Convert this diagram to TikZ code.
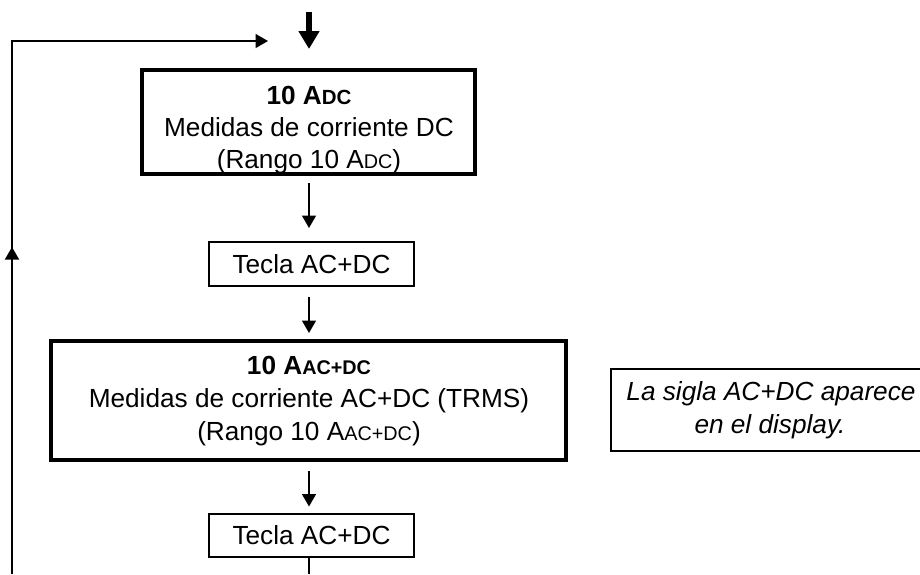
\documentclass[tikz,border=0pt]{standalone}
\usepackage{fontspec}
\setmainfont{Liberation Sans}
\usetikzlibrary{arrows.meta}
\newcommand\smtxt[1]{{\fontsize{19.8}{20}\selectfont #1}}
\newcommand\smbtxt[1]{{\fontsize{20.5}{21}\selectfont #1}}
\begin{document}
\begin{tikzpicture}[x=1pt,y=-1pt,
  thickbox/.style={draw,line width=4pt,inner sep=0pt,outer sep=0pt},
  thinbox/.style={draw,line width=1.3pt,inner sep=0pt,outer sep=0pt,font=\fontsize{26.2}{33}\selectfont},
  txt/.style={font=\fontsize{26.2}{33}\selectfont,inner sep=0pt,anchor=base},
  btxt/.style={font=\fontsize{26.2}{33}\selectfont\bfseries,inner sep=0pt,anchor=base},
  itxt/.style={font=\fontsize{26.2}{33}\selectfont\itshape,inner sep=0pt,anchor=base},
  conn/.style={line width=1.5pt},
  arr/.style={conn,-{Triangle[length=12.5pt,width=14pt]}},
  bigarr/.style={line width=5.5pt,-{Triangle[length=18pt,width=20pt]}}]
\useasboundingbox (0,0) rectangle (920,574);

% box 1 text (drawn before the border)
\node[btxt] (b1l1) at (309,104) {10 A\smbtxt{DC}};
\node[txt] (b1l2) at (309,136) {Medidas de corriente DC};
\node[txt] (b1l3) at (309,168) {(Rango 10 A\smtxt{DC})};
\node[thickbox,minimum width=333pt,minimum height=104pt] (b1) at (308.5,122) {};

% box 2
\node[thinbox,minimum width=205pt,minimum height=44pt] (b2) at (311.5,264) {Tecla AC+DC};

% box 3
\node[btxt] (b3l1) at (309,374) {10 A\smtxt{AC+DC}};
\node[txt] (b3l2) at (309,407) {Medidas de corriente AC+DC (TRMS)};
\node[txt] (b3l3) at (309,440) {(Rango 10 A\smtxt{AC+DC})};
\node[thickbox,minimum width=515pt,minimum height=119pt] (b3) at (308.5,400.5) {};

% box 4
\node[thinbox,minimum width=205pt,minimum height=43pt] (b4) at (311.5,535.5) {Tecla AC+DC};

% note (its right side lies beyond the picture's edge)
\node[inner sep=0pt,outer sep=0pt,minimum width=309pt,minimum height=82pt] (note) at (765.5,410) {};
\draw[line width=1.2pt] (note.north east) -- (note.north west) -- (note.south west) -- (note.south east);
\node[itxt] (n1) at (771,400) {La sigla AC+DC aparece};
\node[itxt] (n2) at (770,433) {en el display.};

% coordinates
\coordinate (top) at (309,12);
\coordinate (bot) at (309,574);
\coordinate (fbbot) at (12,574);
\coordinate (fbmid) at (12,247);
\coordinate (fbtop) at (12,41);
\coordinate (fbend) at (268,41);

% connectors
\draw[bigarr,shorten >=21pt] (top) -- (top |- b1.north);
\draw[arr,shorten <=9pt,shorten >=14pt] (top |- b1.south) -- (top |- b2.north);
\draw[arr,shorten <=10.5pt,shorten >=8pt] (top |- b2.south) -- (top |- b3.north);
\draw[arr,shorten <=11pt,shorten >=7.5pt] (top |- b3.south) -- (top |- b4.north);
\draw[conn] (bot |- b4.south) -- (bot);
\draw[arr] (fbbot) -- (fbtop) -- (fbend);
\draw[arr] (fbbot) -- (fbmid);
\end{tikzpicture}
\end{document}
